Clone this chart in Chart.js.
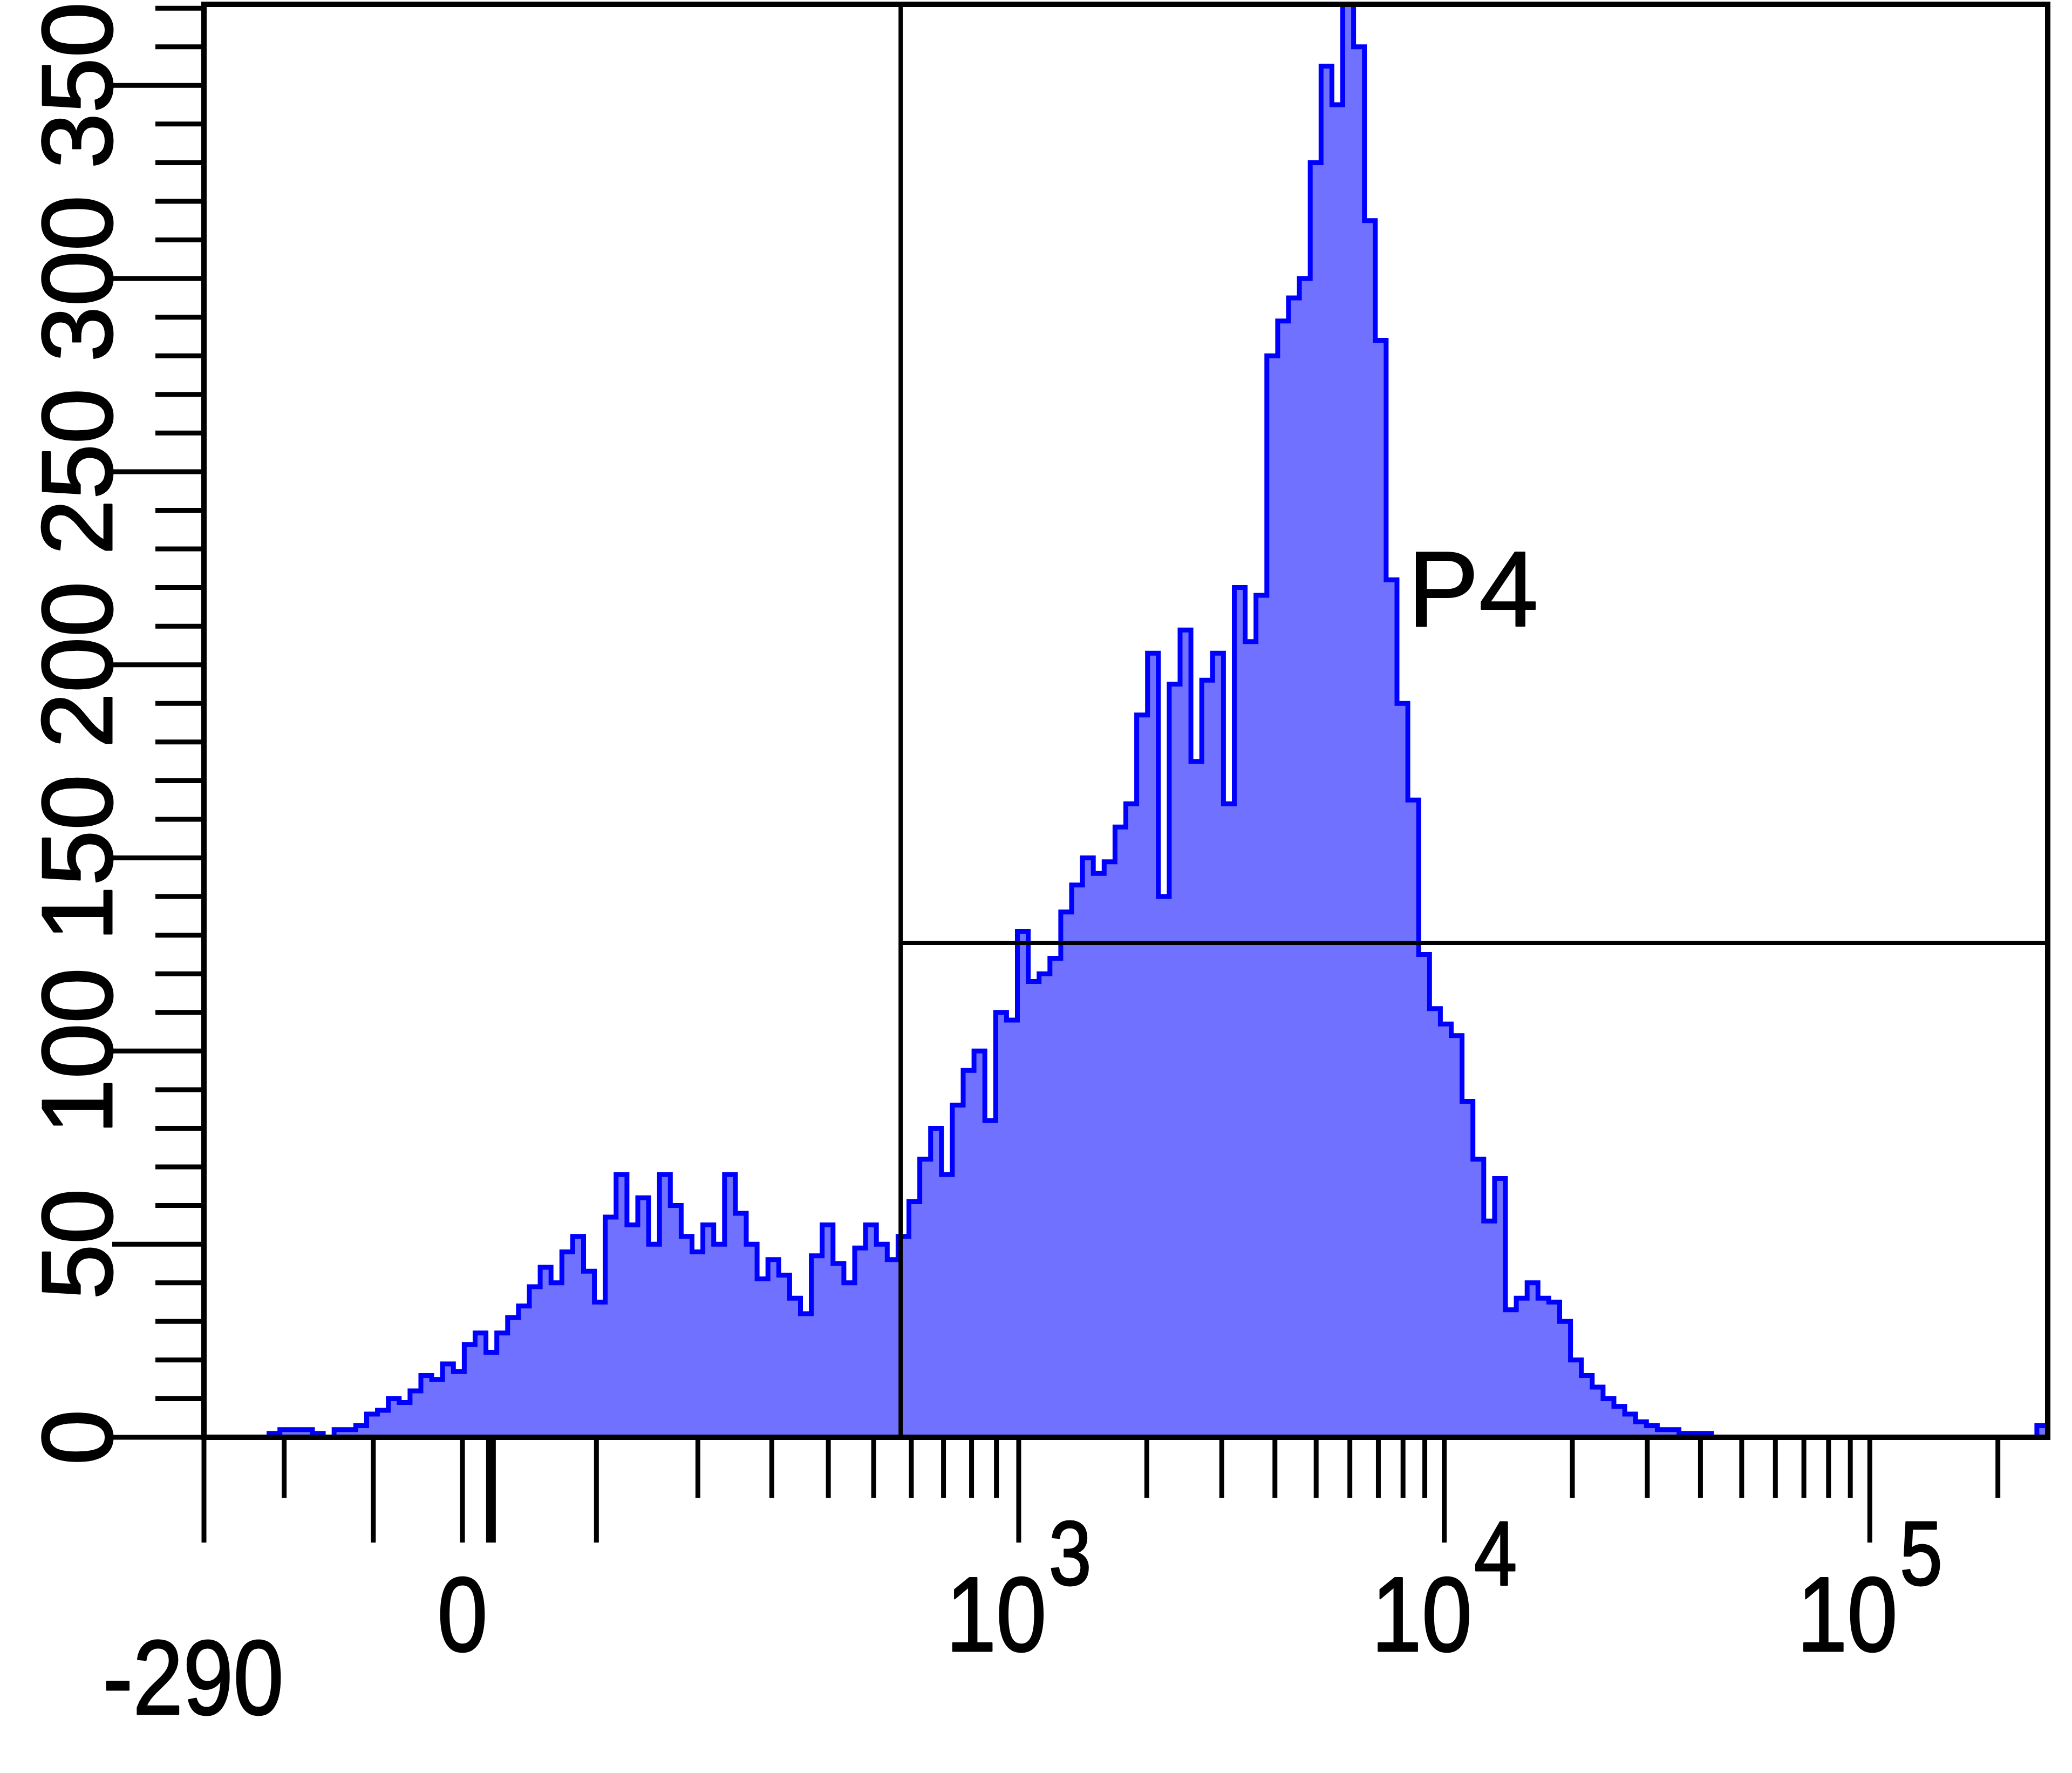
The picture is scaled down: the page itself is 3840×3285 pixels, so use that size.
<!DOCTYPE html>
<html>
<head>
<meta charset="utf-8">
<script src="https://cdn.jsdelivr.net/npm/chart.js@4.4.1/dist/chart.umd.min.js"></script>
<style>
    html, body { margin: 0; padding: 0; background: #fff; }
    #wrap { width: 3840px; height: 3285px; }
</style>
</head>
<body>
<div id="wrap"><canvas id="histChart" width="3840" height="3285"></canvas></div>
<script>
// Event counts per display channel (170 channels from -290 to 262143)
const counts = [
    0, 0, 0, 0, 0, 0, 1, 2, 2, 2,
    1, 0, 2, 2, 3, 6, 7, 10, 9, 12,
    16, 15, 19, 17, 24, 27, 22, 27, 31, 34,
    39, 44, 40, 48, 52, 43, 35, 57, 68, 55,
    62, 50, 68, 60, 52, 48, 55, 50, 68, 58,
    50, 41, 46, 42, 36, 32, 47, 55, 45, 40,
    49, 55, 50, 46, 52, 61, 72, 80, 68, 86,
    95, 100, 82, 110, 108, 131, 118, 120, 124, 136,
    143, 150, 146, 149, 158, 164, 187, 203, 140, 195,
    209, 175, 196, 203, 164, 220, 206, 218, 280, 289,
    295, 300, 330, 355, 345, 371, 360, 315, 284, 222,
    190, 165, 125, 111, 107, 104, 87, 72, 56, 67,
    33, 36, 40, 36, 35, 30, 20, 16, 13, 10,
    8, 6, 4, 3, 2, 2, 1, 1, 1, 0,
    0, 0, 0, 0, 0, 0, 0, 0, 0, 0,
    0, 0, 0, 0, 0, 0, 0, 0, 0, 0,
    0, 0, 0, 0, 0, 0, 0, 0, 0, 3
];

const xMin = -290;
const xMax = 262143;
const yMax = 371;

// x axis: labelled values and their labels
const xLabelValues = [-290, 0, 1000, 10000, 100000];
const xLabels = ['-290', '0', '10^3', '10^4', '10^5'];
const xMajorTicks = [-290, -100, 0, 100, 1000, 10000, 100000];
const xDecades = [100, 1000, 10000, 100000];

// y axis
const yLabelValues = [0, 50, 100, 150, 200, 250, 300, 350];
const yMinorStep = 10;

// gate P4
const gateName = 'P4';
const gateX = 570;
const gateY = 128;
const gateLabelPos = [8200, 210];

// biexponential display: linear below zero, asinh up to 10^3, log above
const U_ZERO = 0.1402;
const U_DEC3 = 0.4419;
const U_DECADE = 0.2308;
const W_LIN = 150;
function biex(v) {
    if (v < 0) return U_ZERO * (1 - v / xMin);
    if (v < 1000) return U_ZERO + (U_DEC3 - U_ZERO) * Math.asinh(v / W_LIN) / Math.asinh(1000 / W_LIN);
    return U_DEC3 + U_DECADE * (Math.log10(v) - 3);
}

// stepped outline: each channel gives a flat top
const n = counts.length;
const histPoints = [];
counts.forEach((c, i) => {
    histPoints.push({ x: i / n, y: c });
    histPoints.push({ x: (i + 1) / n, y: c });
});

const FONT = '"Liberation Sans", Arial, sans-serif';

function heavyText(ctx, text, x, y) {
    ctx.strokeText(text, x, y);
    ctx.fillText(text, x, y);
}

const flowAxes = {
    id: 'flowAxes',
    afterDatasetsDraw(chart) {
        const { ctx, chartArea: a, scales: { x, y } } = chart;
        const px = v => x.getPixelForValue(biex(v));
        const py = v => y.getPixelForValue(v);
        ctx.save();
        ctx.strokeStyle = '#000';
        ctx.fillStyle = '#000';
        ctx.lineCap = 'butt';

        // gate lines
        ctx.lineWidth = 8;
        const gx = px(gateX), gy = py(gateY);
        ctx.beginPath();
        ctx.moveTo(gx, a.top);
        ctx.lineTo(gx, a.bottom);
        ctx.moveTo(gx, gy);
        ctx.lineTo(a.right, gy);
        ctx.stroke();

        // frame
        ctx.lineWidth = 10;
        ctx.strokeRect(a.left, a.top, a.right - a.left, a.bottom - a.top);

        // x ticks
        ctx.lineWidth = 9;
        const minorX = [-200];
        xDecades.forEach(d => {
            for (let k = 2; k <= 9; k++) if (d * k < xMax) minorX.push(d * k);
        });
        ctx.beginPath();
        xMajorTicks.forEach(v => {
            const p = Math.max(px(v), a.left);
            ctx.moveTo(p, a.bottom);
            ctx.lineTo(p, a.bottom + 195);
        });
        minorX.forEach(v => {
            const p = px(v);
            ctx.moveTo(p, a.bottom);
            ctx.lineTo(p, a.bottom + 112);
        });
        ctx.stroke();
        // crowded ticks just above zero
        ctx.lineWidth = 18;
        ctx.beginPath();
        ctx.moveTo(px(20), a.bottom);
        ctx.lineTo(px(20), a.bottom + 195);
        ctx.stroke();

        // y ticks
        ctx.lineWidth = 9;
        ctx.beginPath();
        for (let v = 0; v <= yMax; v += yMinorStep) {
            const len = v % 50 === 0 ? 170 : 90;
            ctx.moveTo(a.left, py(v));
            ctx.lineTo(a.left - len, py(v));
        }
        ctx.stroke();

        ctx.lineWidth = 3;
        ctx.lineJoin = 'round';

        // y labels, rotated
        ctx.font = '185px ' + FONT;
        ctx.textAlign = 'center';
        ctx.textBaseline = 'alphabetic';
        yLabelValues.forEach(v => {
            ctx.save();
            ctx.translate(a.left - 171, py(v));
            ctx.rotate(-Math.PI / 2);
            heavyText(ctx, String(v), 0, 0);
            ctx.restore();
        });

        // x labels (narrow)
        const sx = 0.85;
        xLabelValues.forEach((v, i) => {
            const text = xLabels[i];
            const cx = v === xMin ? a.left - 20 : px(v);
            const base = v === xMin ? a.bottom + 513 : a.bottom + 396;
            const parts = text.split('^');
            ctx.save();
            ctx.textAlign = 'left';
            ctx.font = '197px ' + FONT;
            const w1 = ctx.measureText(parts[0]).width * sx;
            let w2 = 0;
            if (parts[1]) {
                ctx.font = '168px ' + FONT;
                w2 = ctx.measureText(parts[1]).width * sx + 4;
            }
            const left = cx - (w1 + w2) / 2;
            ctx.translate(left, 0);
            ctx.scale(sx, 1);
            ctx.font = '197px ' + FONT;
            heavyText(ctx, parts[0], 0, base);
            if (parts[1]) {
                ctx.font = '168px ' + FONT;
                heavyText(ctx, parts[1], (w1 + 4) / sx, a.bottom + 273);
            }
            ctx.restore();
        });

        // gate name
        ctx.font = '198px ' + FONT;
        ctx.textAlign = 'left';
        ctx.lineWidth = 2;
        heavyText(ctx, gateName, px(gateLabelPos[0]), py(gateLabelPos[1]));
        ctx.restore();
    }
};

const ctx = document.getElementById('histChart').getContext('2d');
new Chart(ctx, {
    type: 'line',
    data: {
        datasets: [{
            label: 'Count',
            data: histPoints,
            borderColor: '#0000ff',
            backgroundColor: 'rgb(113, 113, 255)',
            borderWidth: 9,
            borderJoinStyle: 'miter',
            pointRadius: 0,
            tension: 0,
            fill: 'origin'
        }]
    },
    options: {
        responsive: false,
        devicePixelRatio: 1,
        animation: false,
        layout: {
            padding: { left: 378, right: 45, top: 8, bottom: 622 }
        },
        plugins: {
            legend: { display: false },
            tooltip: { enabled: false }
        },
        scales: {
            x: { type: 'linear', min: 0, max: 1, display: false },
            y: { type: 'linear', min: 0, max: yMax, display: false }
        }
    },
    plugins: [flowAxes]
});
</script>
</body>
</html>
